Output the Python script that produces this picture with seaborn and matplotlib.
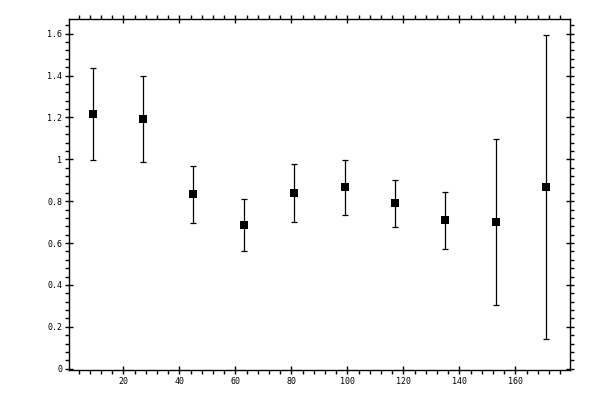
import matplotlib
matplotlib.use('Agg')
import matplotlib.pyplot as plt
import seaborn as sns
import pandas as pd
from matplotlib.ticker import MultipleLocator, FuncFormatter

# values
x_vals = [9, 27, 45, 63, 81, 99, 117, 135, 153, 171]
y_vals = [1.215, 1.191, 0.833, 0.685, 0.838, 0.866, 0.790, 0.709, 0.699, 0.866]
y_upper = [1.434, 1.396, 0.967, 0.809, 0.976, 0.995, 0.900, 0.842, 1.097, 1.592]
y_lower = [0.997, 0.986, 0.696, 0.562, 0.701, 0.733, 0.675, 0.572, 0.305, 0.141]

df = pd.DataFrame({'x': x_vals, 'y': y_vals, 'hi': y_upper, 'lo': y_lower})

sns.set_style('ticks')
plt.rcParams['font.family'] = ['DejaVu Sans Mono', 'DejaVu Sans']

fig = plt.figure(figsize=(6, 4), dpi=100)
ax = fig.add_axes([0.115, 0.075, 0.8355, 0.8775])

ax.errorbar(df['x'], df['y'], yerr=[df['y'] - df['lo'], df['hi'] - df['y']],
            fmt='none', ecolor='black', elinewidth=0.9, capsize=2.2, capthick=0.9)
sns.scatterplot(data=df, x='x', y='y', marker='s', s=30, color='black',
                edgecolor='black', linewidth=0, ax=ax, zorder=3)

ax.set_xlim(0.6, 179.6)
ax.set_ylim(-0.006, 1.67)
ax.set_xlabel('')
ax.set_ylabel('')

ax.xaxis.set_major_locator(MultipleLocator(20))
ax.xaxis.set_minor_locator(MultipleLocator(4))
ax.yaxis.set_major_locator(MultipleLocator(0.2))
ax.yaxis.set_minor_locator(MultipleLocator(0.04))

ax.xaxis.set_major_formatter(FuncFormatter(lambda v, p: '' if v <= 0 or v >= 180 else '%g' % v))
ax.yaxis.set_major_formatter(FuncFormatter(lambda v, p: '%g' % round(v, 2)))

for side in ['top', 'right', 'bottom', 'left']:
    ax.spines[side].set_visible(True)
    ax.spines[side].set_linewidth(1.0)
    ax.spines[side].set_color('black')

ax.tick_params(which='major', direction='inout', length=6, width=1.0,
               top=True, right=True, labelsize=6, pad=2, colors='black')
ax.tick_params(which='minor', direction='out', length=3, width=1.0,
               top=True, right=True, colors='black')

fig.savefig('out.png', dpi=100)
